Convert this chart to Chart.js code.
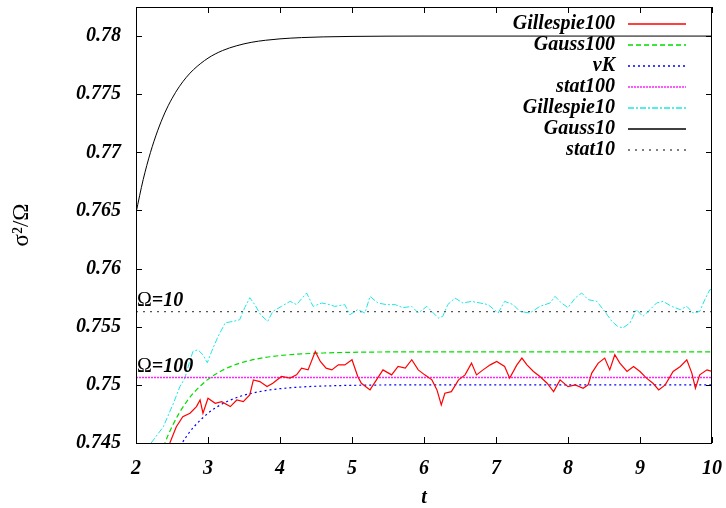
<!DOCTYPE html>
<html>
<head>
<meta charset="utf-8">
<script src="https://cdn.jsdelivr.net/npm/chart.js@4.4.1/dist/chart.umd.min.js"></script>
<style>
  html, body { margin: 0; padding: 0; background: #fff; }
</style>
</head>
<body>
<canvas id="chart1" width="726" height="508"></canvas>
<script>
// time grid used for the smooth (Gaussian / van Kampen) curves
const tSmooth = [2.0, 2.1, 2.2, 2.3, 2.4, 2.5, 2.6, 2.7, 2.8, 3.0, 3.2, 3.4, 3.6, 3.8, 4.0, 4.3, 4.6, 5.0, 6.0, 7.0, 8.0, 9.0, 10.0];
const gauss10 = [0.7648, 0.76766, 0.76997, 0.77185, 0.77339, 0.77463, 0.77564, 0.77646, 0.77712, 0.7781, 0.77875, 0.77917, 0.77946, 0.77964, 0.77976, 0.77987, 0.77993, 0.77997, 0.78, 0.78, 0.78, 0.78, 0.78];
const gauss100 = [0.73534, 0.73851, 0.74111, 0.74324, 0.74498, 0.7464, 0.74757, 0.74852, 0.74931, 0.75047, 0.75125, 0.75178, 0.75213, 0.75236, 0.75252, 0.75266, 0.75274, 0.7528, 0.75284, 0.75284, 0.75284, 0.75284, 0.75284];
const vK = [0.732, 0.73526, 0.73794, 0.74012, 0.74192, 0.74338, 0.74458, 0.74556, 0.74636, 0.74756, 0.74837, 0.74891, 0.74927, 0.74951, 0.74967, 0.74982, 0.7499, 0.74996, 0.75, 0.75, 0.75, 0.75, 0.75];

// stationary values
const stat10 = 0.7563;
const stat100 = 0.75063;

// stochastic simulations [t, sigma^2/Omega]
const gillespie10 = [
  [2.21, 0.745], [2.38, 0.7464], [2.52, 0.74842], [2.61, 0.74985], [2.68, 0.7506], [2.72, 0.75147],
  [2.79, 0.75287], [2.86, 0.75302], [2.93, 0.75259], [2.99, 0.7519], [3.05, 0.75287], [3.14, 0.75416],
  [3.24, 0.75534], [3.35, 0.75546], [3.44, 0.7556], [3.51, 0.75664], [3.58, 0.7575], [3.65, 0.7569],
  [3.73, 0.75603], [3.83, 0.75546], [3.9, 0.75632], [4.02, 0.75675], [4.14, 0.75718], [4.23, 0.7569],
  [4.37, 0.7579], [4.46, 0.75675], [4.58, 0.75704], [4.69, 0.7569], [4.76, 0.75675], [4.9, 0.7569],
  [4.97, 0.75603], [5.08, 0.75647], [5.18, 0.75618], [5.25, 0.75761], [5.36, 0.75704], [5.48, 0.7569],
  [5.6, 0.7569], [5.71, 0.75664], [5.83, 0.75675], [5.92, 0.75618], [6.04, 0.75675], [6.13, 0.75618],
  [6.2, 0.75575], [6.26, 0.75589], [6.33, 0.7569], [6.43, 0.75747], [6.54, 0.75704], [6.66, 0.75718],
  [6.78, 0.75704], [6.89, 0.7569], [7.03, 0.75618], [7.12, 0.75718], [7.24, 0.7569], [7.33, 0.75632],
  [7.47, 0.75618], [7.61, 0.75675], [7.75, 0.75704], [7.82, 0.75761], [7.91, 0.75704], [8.0, 0.75664],
  [8.1, 0.75747], [8.19, 0.7579], [8.28, 0.75733], [8.4, 0.75718], [8.51, 0.75632], [8.61, 0.75546],
  [8.69, 0.75503], [8.76, 0.75489], [8.86, 0.75532], [8.95, 0.75647], [9.04, 0.75589], [9.14, 0.75647],
  [9.23, 0.75704], [9.32, 0.75718], [9.44, 0.75675], [9.56, 0.75647], [9.65, 0.75675], [9.74, 0.75618],
  [9.83, 0.75632], [9.9, 0.75733], [9.97, 0.75819], [10.0, 0.7582]
];
const gillespie100 = [
  [2.47, 0.745], [2.56, 0.7464], [2.65, 0.74727], [2.75, 0.74756], [2.84, 0.74813], [2.89, 0.7487],
  [2.93, 0.74756], [3.0, 0.74885], [3.1, 0.74842], [3.19, 0.74856], [3.31, 0.74813], [3.4, 0.7487],
  [3.49, 0.74856], [3.58, 0.74914], [3.63, 0.75043], [3.72, 0.75028], [3.82, 0.74985], [3.9, 0.75014],
  [4.02, 0.75072], [4.14, 0.75058], [4.23, 0.75086], [4.3, 0.75144], [4.39, 0.75129], [4.49, 0.75287],
  [4.56, 0.75201], [4.64, 0.75144], [4.72, 0.75129], [4.81, 0.75172], [4.9, 0.75172], [5.0, 0.75216],
  [5.08, 0.75072], [5.13, 0.75014], [5.25, 0.74957], [5.34, 0.75043], [5.43, 0.75129], [5.55, 0.75086],
  [5.64, 0.75158], [5.74, 0.75144], [5.83, 0.75216], [5.92, 0.75129], [6.01, 0.75086], [6.11, 0.75043],
  [6.18, 0.74957], [6.24, 0.74828], [6.29, 0.74928], [6.38, 0.74942], [6.48, 0.75043], [6.57, 0.75086],
  [6.66, 0.75187], [6.73, 0.75086], [6.82, 0.75129], [6.92, 0.75172], [7.01, 0.75201], [7.12, 0.75158],
  [7.19, 0.75058], [7.29, 0.75172], [7.36, 0.7523], [7.43, 0.75172], [7.52, 0.75115], [7.61, 0.75072],
  [7.71, 0.75014], [7.8, 0.74942], [7.89, 0.75043], [8.0, 0.74985], [8.1, 0.75], [8.21, 0.74971],
  [8.28, 0.75], [8.33, 0.75101], [8.42, 0.75187], [8.51, 0.7523], [8.58, 0.75129], [8.65, 0.75259],
  [8.72, 0.75187], [8.82, 0.75115], [8.91, 0.75158], [9.0, 0.75115], [9.09, 0.75058], [9.18, 0.75014],
  [9.26, 0.74957], [9.35, 0.75], [9.46, 0.75115], [9.56, 0.75158], [9.65, 0.75216], [9.72, 0.75101],
  [9.77, 0.74971], [9.83, 0.75086], [9.93, 0.75129], [10.0, 0.75115]
];

const omegaLabels = [["=10", stat10], ["=100", stat100]];

const serif = "'Liberation Serif', 'DejaVu Serif', serif";
const pairs = arr => arr.map(p => ({ x: p[0], y: p[1] }));
const smooth = vals => tSmooth.map((t, i) => ({ x: t, y: vals[i] }));
const flat = v => [{ x: 2, y: v }, { x: 10, y: v }];

const frame = {
  id: "frame",
  afterDraw(chart) {
    const { ctx, chartArea: a, scales: { x, y } } = chart;
    ctx.save();
    ctx.strokeStyle = "#000";
    ctx.lineWidth = 1;
    ctx.strokeRect(a.left + 0.5, a.top + 0.5, a.right - a.left - 1, a.bottom - a.top);
    ctx.beginPath();
    x.ticks.forEach(t => {
      const px = Math.round(x.getPixelForValue(t.value)) + 0.5;
      ctx.moveTo(px, a.bottom); ctx.lineTo(px, a.bottom - 6);
      ctx.moveTo(px, a.top); ctx.lineTo(px, a.top + 6);
    });
    y.ticks.forEach(t => {
      const py = Math.round(y.getPixelForValue(t.value)) + 0.5;
      ctx.moveTo(a.left, py); ctx.lineTo(a.left + 6, py);
      ctx.moveTo(a.right, py); ctx.lineTo(a.right - 6, py);
    });
    ctx.stroke();

    // Omega labels above the stationary lines
    ctx.fillStyle = "#000";
    ctx.textBaseline = "alphabetic";
    ctx.textAlign = "left";
    omegaLabels.forEach(([txt, v]) => {
      const px = x.getPixelForValue(2) + 1;
      const py = y.getPixelForValue(v) - 6;
      ctx.font = "20px " + serif;
      ctx.fillText("Ω", px, py);
      const w = ctx.measureText("Ω").width;
      ctx.font = "italic bold 20px " + serif;
      ctx.fillText(txt, px + w, py);
    });

    // key, top right inside the plot
    ctx.textAlign = "right";
    ctx.textBaseline = "middle";
    ctx.font = "italic bold 20px " + serif;
    chart.data.datasets.forEach((ds, i) => {
      const py = 24 + 21 * i;
      ctx.fillStyle = "#000";
      ctx.fillText(ds.label, 615, py);
      ctx.beginPath();
      ctx.strokeStyle = ds.borderColor;
      ctx.lineWidth = 1.5;
      ctx.setLineDash(ds.borderDash || []);
      ctx.moveTo(628, py);
      ctx.lineTo(686, py);
      ctx.stroke();
    });
    ctx.restore();
  }
};

const ctx = document.getElementById("chart1");
const myChart = new Chart(ctx, {
  type: "line",
  data: {
    datasets: [
      { label: "Gillespie100", data: pairs(gillespie100), borderColor: "#ff0000", borderWidth: 1.2, tension: 0 },
      { label: "Gauss100", data: smooth(gauss100), borderColor: "#00dd00", borderWidth: 1.2, borderDash: [5, 3], cubicInterpolationMode: "monotone" },
      { label: "vK", data: smooth(vK), borderColor: "#0000ff", borderWidth: 1.2, borderDash: [2, 3], cubicInterpolationMode: "monotone" },
      { label: "stat100", data: flat(stat100), borderColor: "#ff22ff", borderWidth: 1.5, borderDash: [2, 1] },
      { label: "Gillespie10", data: pairs(gillespie10), borderColor: "#1ee6e6", borderWidth: 1, borderDash: [6, 2, 2, 2], tension: 0 },
      { label: "Gauss10", data: smooth(gauss10), borderColor: "#000000", borderWidth: 1, cubicInterpolationMode: "monotone" },
      { label: "stat10", data: flat(stat10), borderColor: "#555555", borderWidth: 1.2, borderDash: [2, 5] }
    ]
  },
  options: {
    responsive: false,
    animation: false,
    elements: { point: { radius: 0 } },
    layout: { padding: { top: 7, right: 14, left: 0, bottom: 0 } },
    plugins: {
      legend: { display: false },
      tooltip: { enabled: false }
    },
    scales: {
      x: {
        type: "linear",
        min: 2,
        max: 10,
        afterFit: s => { s.height = 65; s.paddingLeft = 0; s.paddingRight = 0; },
        grid: { display: false, drawTicks: false },
        border: { display: false },
        ticks: { stepSize: 1, padding: 14, color: "#000", font: { family: serif, size: 20, style: "italic", weight: "bold" } },
        title: { display: true, text: "t", color: "#000", padding: { top: 0, bottom: 0 }, font: { family: serif, size: 20, style: "italic", weight: "bold", lineHeight: 1.0 } }
      },
      y: {
        min: 0.745,
        max: 0.7825,
        afterFit: s => { s.width = 136; s.paddingTop = 0; s.paddingBottom = 0; },
        afterBuildTicks: s => {
          s.ticks = s.ticks.filter(t => Math.abs(t.value / 0.005 - Math.round(t.value / 0.005)) < 1e-6);
        },
        grid: { display: false, drawTicks: false },
        border: { display: false },
        ticks: {
          stepSize: 0.005,
          padding: 15,
          color: "#000",
          font: { family: serif, size: 20, style: "italic", weight: "bold" },
          callback: v => String(+v.toFixed(3))
        },
        title: { display: true, text: "σ²/Ω", color: "#000", padding: { top: 8, bottom: 0 }, font: { family: serif, size: 23 } }
      }
    }
  },
  plugins: [frame]
});
</script>
</body>
</html>
